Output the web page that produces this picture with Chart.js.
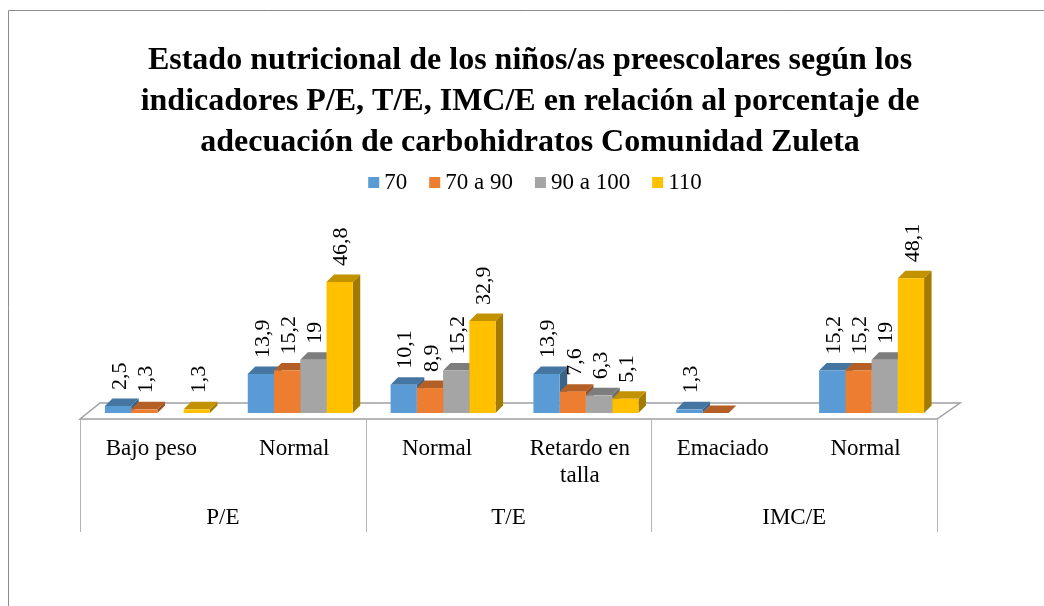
<!DOCTYPE html>
<html>
<head>
<meta charset="utf-8">
<script src="https://cdn.jsdelivr.net/npm/chart.js@4/dist/chart.umd.min.js"></script>
<style>
html,body{margin:0;padding:0;background:#fff;}
canvas{display:block;}
</style>
</head>
<body>
<canvas id="c" width="1044" height="606" style="width:1044px;height:606px"></canvas>
<script>
// ---- data ----
const titleLines = [
  'Estado nutricional de los niños/as preescolares según los',
  'indicadores P/E, T/E, IMC/E en relación al porcentaje de',
  'adecuación de carbohidratos Comunidad Zuleta'
];
const categories = [['Bajo peso'], ['Normal'], ['Normal'], ['Retardo en', 'talla'], ['Emaciado'], ['Normal']];
const groups = ['P/E', 'T/E', 'IMC/E'];
const seriesNames = ['70', '70 a 90', '90 a 100', '110'];
const s70     = [2.5, 13.9, 10.1, 13.9, 1.3, 15.2];
const s70a90  = [1.3, 15.2, 8.9, 7.6, 0, 15.2];
const s90a100 = [null, 19, 15.2, 6.3, null, 19];
const s110    = [1.3, 46.8, 32.9, 5.1, null, 48.1];

const colors = ['#5B9BD5', '#ED7D31', '#A5A5A5', '#FFC000'];
const SERIF = '"Liberation Serif", "Times New Roman", serif';

function shade(hex, f) {
  const n = parseInt(hex.slice(1), 16);
  const r = Math.round(((n >> 16) & 255) * f), g = Math.round(((n >> 8) & 255) * f), b = Math.round((n & 255) * f);
  return 'rgb(' + r + ',' + g + ',' + b + ')';
}
function fmt(v) { return String(v).replace('.', ','); }

const D = 7.5;        // 3D depth
const SHIFT = 6;      // front faces are shifted right of floor centers

const plugin3d = {
  id: 'plugin3d',
  beforeDraw(chart) {
    const ctx = chart.ctx;
    ctx.save();
    ctx.fillStyle = '#fff';
    ctx.fillRect(0, 0, chart.width, chart.height);
    ctx.strokeStyle = '#8c8c8c';
    ctx.lineWidth = 1;
    ctx.beginPath();
    ctx.moveTo(8.5, 1100); ctx.lineTo(8.5, 10.5); ctx.lineTo(1100, 10.5);
    ctx.stroke();
    ctx.restore();
  },
  beforeDatasetsDraw(chart) {
    const ctx = chart.ctx, ca = chart.chartArea;
    const base = chart.scales.y.getPixelForValue(0);
    const fl = ca.left - SHIFT, fr = ca.right - SHIFT;
    const fy = base + 6, by = base - 10;
    ctx.save();
    // floor
    ctx.strokeStyle = '#a0a0a0';
    ctx.lineWidth = 1.5;
    ctx.beginPath();
    ctx.moveTo(fl, fy); ctx.lineTo(fl + 20, by); ctx.lineTo(fr + 23, by); ctx.lineTo(fr, fy); ctx.closePath();
    ctx.stroke();
    // dividers
    const catW = (fr - fl) / categories.length;
    ctx.strokeStyle = '#b4b4b4';
    ctx.lineWidth = 1;
    for (let k = 0; k <= groups.length; k++) {
      const x = Math.round(fl + k * 2 * catW) + 0.5;
      ctx.beginPath(); ctx.moveTo(x, fy); ctx.lineTo(x, base + 119); ctx.stroke();
    }
    // tops and sides
    const n = categories.length;
    for (let i = 0; i < n; i++) {
      chart.data.datasets.forEach((ds, d) => {
        const v = ds.data[i];
        if (v === null || v === undefined) return;
        const el = chart.getDatasetMeta(d).data[i];
        const x1 = el.x - el.width / 2, x2 = el.x + el.width / 2;
        const top = el.y, b = el.base;
        ctx.fillStyle = shade(colors[d], 0.64);
        ctx.beginPath();
        ctx.moveTo(x2, top); ctx.lineTo(x2 + D, top - D); ctx.lineTo(x2 + D, b - D); ctx.lineTo(x2, b); ctx.closePath();
        ctx.fill();
        ctx.fillStyle = shade(colors[d], 0.76);
        ctx.beginPath();
        ctx.moveTo(x1, top); ctx.lineTo(x1 + D, top - D); ctx.lineTo(x2 + D, top - D); ctx.lineTo(x2, top); ctx.closePath();
        ctx.fill();
      });
    }
    ctx.restore();
  },
  afterDatasetsDraw(chart) {
    const ctx = chart.ctx;
    ctx.save();
    ctx.fillStyle = '#000';
    ctx.font = '22px ' + SERIF;
    ctx.textAlign = 'left';
    ctx.textBaseline = 'middle';
    chart.data.datasets.forEach((ds, d) => {
      chart.getDatasetMeta(d).data.forEach((el, i) => {
        const v = ds.data[i];
        if (v === null || v === undefined || v === 0) return;
        ctx.save();
        ctx.translate(el.x + 2, el.y - 16);
        ctx.rotate(-Math.PI / 2);
        ctx.fillText(fmt(v), 0, 0);
        ctx.restore();
      });
    });
    ctx.restore();
  },
  afterDraw(chart) {
    const ctx = chart.ctx, ca = chart.chartArea;
    const base = chart.scales.y.getPixelForValue(0);
    const cx = 530;
    ctx.save();
    ctx.fillStyle = '#000';
    // title
    ctx.font = 'bold 32px ' + SERIF;
    ctx.textAlign = 'center';
    ctx.textBaseline = 'alphabetic';
    titleLines.forEach((t, k) => ctx.fillText(t, cx, 69 + k * 41));
    // legend
    ctx.font = '23px ' + SERIF;
    const box = 11, gap = 5, sp = 22;
    const widths = seriesNames.map(s => ctx.measureText(s).width);
    const total = widths.reduce((a, w) => a + box + gap + w, 0) + sp * (seriesNames.length - 1);
    let x = 535 - total / 2;
    ctx.textAlign = 'left';
    seriesNames.forEach((s, k) => {
      ctx.fillStyle = colors[k];
      ctx.fillRect(x, 177, box, box);
      ctx.fillStyle = '#000';
      ctx.fillText(s, x + box + gap, 189);
      x += box + gap + widths[k] + sp;
    });
    // category labels
    ctx.textAlign = 'center';
    const xs = chart.scales.x;
    categories.forEach((lines, i) => {
      const px = xs.getPixelForValue(i) - SHIFT;
      lines.forEach((l, k) => ctx.fillText(l, px, base + 42 + k * 27));
    });
    // group labels
    const fl = ca.left - SHIFT, fr = ca.right - SHIFT;
    const gw = (fr - fl) / groups.length;
    groups.forEach((g, k) => ctx.fillText(g, fl + gw * (k + 0.5), base + 111));
    ctx.restore();
  }
};

new Chart(document.getElementById('c'), {
  type: 'bar',
  data: {
    labels: categories.map(c => c.join(' ')),
    datasets: seriesNames.map((name, d) => ({
      label: name,
      data: [s70, s70a90, s90a100, s110][d],
      backgroundColor: colors[d],
      borderWidth: 0,
      categoryPercentage: 0.735,
      barPercentage: 1.0
    }))
  },
  options: {
    responsive: false,
    animation: false,
    events: [],
    layout: { padding: { left: 86, right: 101, top: 273, bottom: 193 } },
    scales: {
      x: { display: false, offset: true, grid: { display: false } },
      y: { display: false, min: 0, max: 50 }
    },
    plugins: { legend: { display: false }, title: { display: false }, tooltip: { enabled: false } }
  },
  plugins: [plugin3d]
});
</script>
</body>
</html>
